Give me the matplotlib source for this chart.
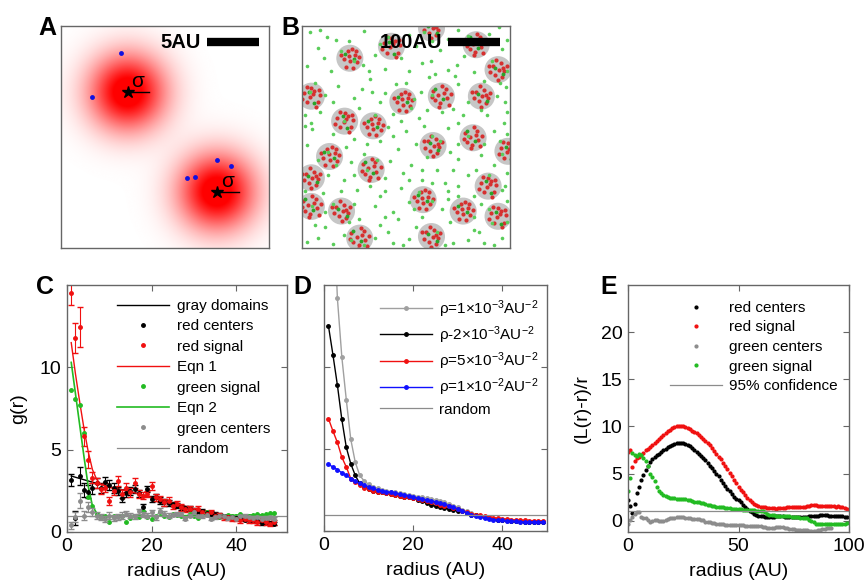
import numpy as np
import matplotlib
matplotlib.use("Agg")
import matplotlib.pyplot as plt
from matplotlib.patches import Circle
from matplotlib.colors import LinearSegmentedColormap

plt.rcParams['font.family'] = ['Liberation Sans', 'DejaVu Sans']
plt.rcParams['mathtext.fontset'] = 'custom'
plt.rcParams['mathtext.rm'] = 'Liberation Sans'
plt.rcParams['mathtext.it'] = 'Liberation Sans:italic'

W, H = 865, 581

# ---------------- panel A : two gaussian spots ----------------
a_star_x = [6.4, 15.0]
a_star_y = [15.0, 5.4]
a_sigma = 2.1
a_blue_x = [5.74, 2.98, 14.97, 16.32, 12.14, 12.91]
a_blue_y = [18.78, 14.55, 8.46, 7.91, 6.76, 6.86]

# ---------------- panel B : domains and points ----------------
dom_x = [249, 92, 172, 335, 377, 18, 194, 268, 345, 82, 137, 252, 329,
         396, 53, 133, 18, 358, 233, 18, 76, 310, 377, 111, 249]
dom_y = [423, 365, 388, 391, 343, 292, 282, 292, 292, 244, 235, 197, 212,
         186, 176, 151, 135, 119, 93, 80, 71, 71, 61, 19, 22]
dom_r = 26
red_patterns = [
    [(-10, 8), (5, 12), (12, -3), (-5, -10), (2, 0), (-15, -4), (8, -14),
     (-3, 19), (17, 7), (-18, 8), (0, -20), (9, 3)],
    [(-12, -2), (-4, 14), (10, 6), (14, -8), (0, -6), (-8, -16), (4, 18),
     (-17, 6), (18, 2), (6, -18), (-2, 4), (12, 14)],
    [(6, 10), (-14, 6), (-2, -2), (12, -12), (-8, -12), (16, 2), (0, 16),
     (-18, -6), (8, -20), (-9, 17), (3, 5), (14, 12)],
    [(-16, 10), (-6, 2), (8, 14), (10, -4), (-2, -14), (14, -16), (-12, -8),
     (2, 20), (18, 4), (-4, -20), (5, 6), (-18, -2)],
]
green_in_patterns = [[(-6, 4), (10, -9)], [(8, -2), (-10, 9)],
                     [(-4, 9), (5, -14)], [(3, -6), (-12, 14)]]
dom_pattern = [0, 1, 2, 3, 0, 2, 1, 3, 0, 2, 1, 0, 3, 2, 1, 3, 0, 2, 1, 3, 0, 1, 2, 3, 0]
green_pts = [
    (15, 415), (48, 405), (120, 418), (205, 410), (300, 420), (360, 412), (395, 400),
    (30, 385), (75, 378), (140, 372), (220, 388), (265, 380), (312, 370), (385, 382),
    (10, 350), (55, 340), (118, 352), (160, 345), (230, 355), (280, 342), (330, 338), (365, 360),
    (25, 318), (70, 312), (130, 325), (200, 318), (245, 328), (300, 315), (350, 322), (392, 310),
    (45, 295), (100, 288), (160, 298), (215, 286), (290, 268), (320, 280), (375, 292),
    (5, 255), (35, 262), (110, 270), (175, 258), (225, 250), (270, 262), (355, 255), (395, 262),
    (20, 228), (60, 220), (100, 210), (165, 232), (200, 225), (280, 230), (300, 240), (370, 225),
    (10, 198), (85, 195), (150, 205), (185, 190), (220, 200), (285, 185), (345, 178), (380, 205),
    (30, 170), (95, 165), (120, 180), (170, 168), (210, 160), (260, 150), (300, 172), (370, 160),
    (50, 140), (80, 130), (160, 135), (195, 145), (230, 130), (275, 125), (320, 140), (395, 145),
    (5, 110), (40, 105), (105, 112), (150, 100), (190, 115), (225, 108), (280, 110), (330, 100), (385, 112),
    (25, 45), (60, 85), (140, 80), (175, 70), (205, 88), (270, 75), (345, 85), (395, 90),
    (45, 40), (90, 50), (150, 45), (185, 55), (220, 40), (285, 50), (330, 35), (365, 48),
    (10, 12), (60, 8), (140, 20), (175, 10), (205, 18), (290, 10), (320, 15), (385, 20),
    (65, 400), (165, 405), (250, 398), (340, 395), (100, 360), (190, 365), (255, 335), (395, 340),
    (15, 300), (135, 300), (250, 295), (345, 265), (80, 245), (140, 255), (250, 215), (320, 215),
    (50, 185), (125, 150), (240, 175), (335, 150), (20, 80), (100, 85), (160, 110), (250, 90),
    (300, 100), (360, 75), (80, 25), (120, 5), (230, 60), (260, 30), (350, 10), (395, 50),
    (5, 235), (210, 270), (385, 180),
    (35, 420), (90, 398), (150, 392), (235, 415), (280, 402), (320, 408), (378, 425),
    (42, 365), (128, 340), (205, 340), (248, 360), (298, 352), (380, 318), (60, 280),
    (115, 305), (180, 315), (228, 300), (295, 330), (390, 280), (18, 240), (150, 280),
    (190, 245), (240, 265), (310, 255), (388, 240), (125, 200), (175, 215), (235, 235),
    (265, 205), (300, 200), (395, 220), (65, 160), (100, 140), (145, 170), (230, 150),
    (290, 150), (350, 200), (75, 110), (130, 120), (205, 130), (250, 125), (300, 120),
    (360, 140), (45, 70), (110, 55), (160, 60), (215, 75), (280, 95), (330, 60),
    (390, 120), (30, 20), (95, 15), (165, 30), (195, 5), (275, 5), (340, 30), (370, 5),
]

# ---------------- panel C : g(r) ----------------
c_r = np.arange(1, 50)
c_red_signal = [14.5, 11.8, 12.45, 5.8, 4.4, 3.3, 3.0, 2.6, 2.7, 1.9,
                2.5, 3.1, 2.3, 2.7, 2.4, 3.0, 2.3, 2.2, 2.3, 2.8,
                2.1, 2.0, 1.8, 1.9, 1.6, 1.7, 1.5, 1.4, 1.4, 1.3,
                1.4, 1.2, 1.1, 1.2, 1.0, 1.0, 0.9, 0.9, 0.8, 0.8,
                0.7, 0.8, 0.7, 0.7, 0.6, 0.7, 0.6, 0.5, 0.6]
c_red_signal_err = [0.7, 0.9, 1.2, 0.6, 0.5, 0.35, 0.3, 0.3, 0.3, 0.25,
                    0.25, 0.3, 0.25, 0.25, 0.25, 0.3, 0.25, 0.2, 0.2, 0.25,
                    0.2, 0.2, 0.2, 0.2, 0.2, 0.2, 0.2, 0.2, 0.15, 0.15,
                    0.15, 0.15, 0.15, 0.15, 0.15, 0.15, 0.15, 0.15, 0.15, 0.15,
                    0.15, 0.15, 0.15, 0.15, 0.15, 0.15, 0.15, 0.15, 0.15]
c_red_centers = [3.15, 0.85, 3.4, 2.55, 2.45, 2.65, 2.95, 2.65, 3.05, 2.85,
                 2.65, 2.5, 2.05, 2.35, 2.5, 2.6, 2.35, 1.5, 2.6, 2.0,
                 2.1, 1.9, 1.8, 1.75, 1.7, 1.6, 1.5, 1.45, 1.4, 1.3,
                 1.2, 1.25, 1.15, 1.1, 1.05, 1.0, 0.95, 0.9, 0.9, 0.85,
                 0.8, 0.75, 0.75, 0.7, 0.65, 0.55, 0.6, 0.55, 0.5]
c_red_centers_err = [0.35, 0.4, 0.55, 0.45, 0.4, 0.35, 0.3, 0.3, 0.3, 0.3,
                     0.3, 0.25, 0.25, 0.25, 0.25, 0.25, 0.2, 0.2, 0.2, 0.2,
                     0.2, 0.2, 0.2, 0.2, 0.15, 0.15, 0.15, 0.15, 0.15, 0.15,
                     0.15, 0.15, 0.15, 0.15, 0.15, 0.15, 0.1, 0.1, 0.1, 0.1,
                     0.1, 0.1, 0.1, 0.1, 0.1, 0.1, 0.1, 0.1, 0.1]
c_green_signal = [8.6, 8.1, 7.7, 6.0, 2.1, 1.6, 1.1, 0.9, 1.0, 0.6,
                  1.0, 0.95, 1.0, 0.6, 0.85, 1.0, 0.9, 1.3, 0.9, 0.8,
                  1.0, 1.2, 1.0, 0.9, 1.1, 1.05, 1.0, 0.9, 1.1, 1.0,
                  0.85, 1.05, 1.2, 1.0, 1.0, 0.9, 1.0, 1.05, 0.95, 1.0,
                  1.1, 0.95, 1.0, 1.05, 1.1, 1.05, 1.1, 1.15, 1.15]
c_green_centers = [0.4, 0.9, 1.9, 1.0, 1.5, 1.2, 1.0, 0.9, 0.8, 1.0,
                   0.85, 0.9, 1.0, 1.1, 1.0, 0.95, 1.25, 1.05, 1.0, 1.2,
                   0.9, 1.3, 1.1, 1.0, 1.05, 1.1, 1.1, 0.8, 1.0, 1.2,
                   1.0, 0.95, 1.05, 0.8, 0.9, 1.0, 0.95, 0.85, 0.9, 0.8,
                   0.95, 1.0, 0.9, 0.85, 0.9, 0.8, 0.85, 0.9, 0.8]
c_green_centers_err = [0.2, 0.3, 0.45, 0.3, 0.3, 0.25, 0.2, 0.2, 0.2, 0.2,
                       0.2, 0.2, 0.2, 0.15, 0.15, 0.15, 0.15, 0.15, 0.15, 0.15,
                       0.15, 0.15, 0.15, 0.15, 0.1, 0.1, 0.1, 0.1, 0.1, 0.1,
                       0.1, 0.1, 0.1, 0.1, 0.1, 0.1, 0.1, 0.1, 0.1, 0.1,
                       0.1, 0.1, 0.1, 0.1, 0.1, 0.1, 0.1, 0.1, 0.1]
c_domain_r = [1, 5, 10, 15, 20, 25, 30, 35, 40, 45, 49]
c_domain_g = [3.4, 3.1, 2.75, 2.45, 2.1, 1.75, 1.42, 1.15, 0.92, 0.7, 0.55]
c_eqn1_r = [1, 2, 3, 4, 5, 6, 7, 8, 10, 15, 20, 25, 30, 35, 40, 45, 49]
c_eqn1_g = [11.5, 9.6, 7.9, 6.3, 4.9, 3.8, 3.2, 2.9, 2.7, 2.45, 2.1, 1.75, 1.4, 1.1, 0.85, 0.65, 0.55]
c_eqn2_r = [1, 2, 3, 4, 5, 6, 7, 8, 10, 20, 30, 40, 49]
c_eqn2_g = [10.3, 8.4, 6.5, 4.6, 2.8, 1.6, 1.15, 1.0, 0.95, 0.97, 1.0, 1.02, 1.05]

# ---------------- panel D : simulated densities ----------------
d_r = np.arange(1, 50)
d_rho1 = [30, 21, 14.2, 10.6, 8.0, 5.6, 4.2, 3.4, 3.05, 2.85,
          2.7, 2.6, 2.5, 2.45, 2.4, 2.35, 2.3, 2.25, 2.2, 2.15,
          2.1, 2.05, 2.0, 1.95, 1.9, 1.85, 1.75, 1.65, 1.55, 1.45,
          1.3, 1.2, 1.1, 1.0, 0.92, 0.85, 0.8, 0.75, 0.7, 0.66,
          0.63, 0.6, 0.58, 0.57, 0.56, 0.56, 0.55, 0.55, 0.55]
d_rho2 = [12.5, 10.75, 8.9, 6.8, 5.1, 4.1, 3.4, 2.9, 2.7, 2.55,
          2.45, 2.4, 2.35, 2.3, 2.25, 2.2, 2.15, 2.1, 2.05, 2.0,
          1.9, 1.8, 1.7, 1.6, 1.5, 1.45, 1.4, 1.35, 1.3, 1.25,
          1.2, 1.1, 1.0, 0.95, 0.9, 0.85, 0.8, 0.75, 0.7, 0.68,
          0.65, 0.62, 0.6, 0.58, 0.57, 0.56, 0.55, 0.55, 0.55]
d_rho5 = [6.85, 6.1, 5.4, 4.5, 3.9, 3.2, 3.0, 2.8, 2.65, 2.55,
          2.45, 2.4, 2.35, 2.3, 2.25, 2.2, 2.15, 2.1, 2.05, 2.0,
          1.95, 1.9, 1.8, 1.75, 1.7, 1.6, 1.55, 1.5, 1.4, 1.35,
          1.25, 1.15, 1.05, 1.0, 0.95, 0.9, 0.85, 0.8, 0.78, 0.75,
          0.72, 0.7, 0.68, 0.66, 0.65, 0.64, 0.63, 0.62, 0.62]
d_rho10 = [4.07, 3.9, 3.75, 3.55, 3.4, 3.2, 3.05, 2.9, 2.8, 2.7,
           2.6, 2.5, 2.45, 2.4, 2.35, 2.3, 2.25, 2.2, 2.15, 2.07,
           2.0, 1.95, 1.9, 1.85, 1.78, 1.7, 1.62, 1.55, 1.45, 1.36,
           1.25, 1.1, 0.95, 0.9, 0.85, 0.8, 0.75, 0.7, 0.67, 0.65,
           0.62, 0.6, 0.58, 0.57, 0.56, 0.55, 0.55, 0.55, 0.55]
d_labels = ['ρ=1×10$^{-3}$AU$^{-2}$', 'ρ-2×10$^{-3}$AU$^{-2}$',
            'ρ=5×10$^{-3}$AU$^{-2}$', 'ρ=1×10$^{-2}$AU$^{-2}$']

# ---------------- panel E : Ripley L ----------------
e_r = np.arange(0, 100)
e_red_signal = [7.3, 7.5, 5.7, 6.3, 6.6, 6.8, 7.0, 7.2, 7.5, 7.6,
                7.8, 8.0, 8.2, 8.5, 8.7, 8.9, 9.1, 9.3, 9.5, 9.6,
                9.8, 9.9, 10.0, 10.05, 10.05, 10.0, 9.95, 9.85, 9.7, 9.55,
                9.4, 9.25, 9.1, 8.9, 8.7, 8.5, 8.25, 8.0, 7.7, 7.4,
                7.1, 6.8, 6.5, 6.15, 5.85, 5.5, 5.1, 4.7, 4.35, 3.95,
                3.6, 3.3, 3.0, 2.7, 2.45, 2.2, 2.0, 1.8, 1.65, 1.55,
                1.5, 1.45, 1.4, 1.35, 1.3, 1.3, 1.3, 1.25, 1.3, 1.3,
                1.3, 1.35, 1.4, 1.45, 1.5, 1.5, 1.45, 1.4, 1.45, 1.5,
                1.5, 1.55, 1.6, 1.65, 1.65, 1.65, 1.6, 1.6, 1.55, 1.55,
                1.55, 1.6, 1.55, 1.55, 1.5, 1.55, 1.5, 1.45, 1.3, 1.2]
e_red_centers = [2.2, 1.6, 0.8, 1.8, 2.9, 3.6, 4.3, 4.8, 5.4, 5.8,
                 6.2, 6.5, 6.8, 7.0, 7.1, 7.3, 7.5, 7.6, 7.8, 7.9,
                 8.0, 8.1, 8.2, 8.2, 8.25, 8.2, 8.1, 8.0, 7.9, 7.7,
                 7.5, 7.3, 7.1, 6.9, 6.65, 6.4, 6.1, 5.8, 5.55, 5.3,
                 5.0, 4.7, 4.35, 4.05, 3.7, 3.4, 3.1, 2.8, 2.55, 2.35,
                 2.2, 1.95, 1.7, 1.5, 1.25, 1.05, 0.9, 0.75, 0.62, 0.55,
                 0.5, 0.45, 0.42, 0.4, 0.4, 0.4, 0.42, 0.45, 0.45, 0.45,
                 0.45, 0.42, 0.4, 0.4, 0.4, 0.4, 0.38, 0.38, 0.4, 0.4,
                 0.4, 0.42, 0.45, 0.5, 0.5, 0.5, 0.55, 0.6, 0.6, 0.6,
                 0.6, 0.55, 0.55, 0.5, 0.5, 0.5, 0.45, 0.45, 0.4, 0.4]
e_green_signal = [3.2, 4.5, 7.2, 7.0, 6.9, 7.1, 7.0, 6.6, 6.3, 5.8,
                  5.0, 4.6, 4.2, 3.6, 3.2, 2.9, 2.75, 2.6, 2.5, 2.45,
                  2.4, 2.4, 2.35, 2.35, 2.3, 2.3, 2.25, 2.2, 2.15, 2.1,
                  2.0, 2.0, 1.95, 1.9, 1.85, 1.75, 1.7, 1.65, 1.6, 1.55,
                  1.5, 1.45, 1.4, 1.4, 1.35, 1.3, 1.3, 1.25, 1.25, 1.2,
                  1.2, 1.2, 1.15, 1.15, 1.1, 1.1, 1.1, 1.1, 1.05, 1.05,
                  1.05, 1.0, 0.9, 0.75, 0.65, 0.6, 0.6, 0.55, 0.55, 0.55,
                  0.55, 0.5, 0.5, 0.45, 0.4, 0.4, 0.4, 0.35, 0.3, 0.3,
                  0.3, 0.25, 0.1, 0.0, -0.15, -0.3, -0.3, -0.3, -0.3, -0.3,
                  -0.3, -0.3, -0.35, -0.35, -0.35, -0.35, -0.3, -0.3, -0.3, -0.25]
e_r_gc = np.arange(0, 93)
e_green_centers = [-0.3, 0.1, 0.4, 0.7, 0.95, 0.9, 0.4, 0.3, 0.25, 0.1,
                   -0.1, 0.0, 0.05, 0.05, 0.0, 0.0, -0.05, 0.1, 0.2, 0.25,
                   0.25, 0.3, 0.35, 0.4, 0.4, 0.35, 0.3, 0.25, 0.25, 0.2,
                   0.2, 0.15, 0.15, 0.1, 0.05, -0.1, -0.1, -0.15, -0.2, -0.25,
                   -0.3, -0.3, -0.35, -0.4, -0.45, -0.45, -0.45, -0.45, -0.45, -0.45,
                   -0.45, -0.5, -0.5, -0.55, -0.6, -0.6, -0.6, -0.6, -0.6, -0.6,
                   -0.6, -0.65, -0.7, -0.75, -0.8, -0.8, -0.75, -0.7, -0.7, -0.7,
                   -0.7, -0.75, -0.8, -0.85, -0.9, -0.9, -0.95, -0.95, -1.0, -1.0,
                   -1.0, -1.0, -1.05, -1.05, -1.05, -1.05, -1.0, -0.95, -0.9, -0.85,
                   -0.8, -0.8, -0.8]
e_conf = 1.0

RED = '#f01010'
GREEN = '#22bb22'
GRAY = '#8c8c8c'
FRAME = '#666666'
TICK_FS = 14
LEG_FS = 11


def px_axes(fig, l, t, r, b):
    return fig.add_axes([l / W, 1 - b / H, (r - l) / W, (b - t) / H])


def style_frame(ax):
    for s in ax.spines.values():
        s.set_color(FRAME)
        s.set_linewidth(1.0)


def style_plot(ax):
    style_frame(ax)
    ax.tick_params(direction='in', top=True, right=True, length=4,
                   color=FRAME, labelsize=TICK_FS, pad=4)


def add_legend(ax, anchor, spacing, handles=None, labels=None):
    # anchor: upper right corner of legend, in axes fraction
    kw = dict(loc='upper right', bbox_to_anchor=anchor, frameon=False,
              fontsize=LEG_FS, handlelength=3.4, handletextpad=0.5,
              labelspacing=spacing, borderaxespad=0, borderpad=0, numpoints=1)
    if handles is None:
        ax.legend(**kw)
    else:
        ax.legend(handles, labels, **kw)


fig = plt.figure(figsize=(W / 100, H / 100), dpi=100)

# ---- A ----
axA = px_axes(fig, 61, 26, 269, 248)
xa = np.linspace(0, 20, 400)
ya = np.linspace(0, 21.35, 428)
XA, YA = np.meshgrid(xa, ya)
dens = np.zeros_like(XA)
for sx, sy in zip(a_star_x, a_star_y):
    dens += np.exp(-((XA - sx) ** 2 + (YA - sy) ** 2) / (2 * (a_sigma * 1.22) ** 2))
wr = LinearSegmentedColormap.from_list('wr', ['white', '#ff0000'])
axA.imshow(np.clip(dens * 1.15, 0, 1), origin='lower', extent=[0, 20, 0, 21.35],
           cmap=wr, vmin=0, vmax=1, aspect='auto', interpolation='bilinear')
axA.plot(a_blue_x, a_blue_y, 'o', color='#1010e0', ms=3.5, mec='none')
axA.plot(a_star_x, a_star_y, '*', color='black', ms=9)
for sx, sy in zip(a_star_x, a_star_y):
    axA.plot([sx, sx + a_sigma], [sy, sy], color='black', lw=1)
    axA.text(sx + 1.0, sy + 0.1, 'σ', fontsize=15, ha='center', va='bottom')
axA.plot([14, 19], [19.8, 19.8], color='black', lw=6, solid_capstyle='butt')
axA.text(13.4, 19.8, '5AU', fontsize=14.5, fontweight='bold', ha='right', va='center')
axA.set_xlim(0, 20)
axA.set_ylim(0, 21.35)
axA.set_xticks([])
axA.set_yticks([])
style_frame(axA)

# ---- B ----
axB = px_axes(fig, 302, 26, 510, 248)
for i, (cx, cy) in enumerate(zip(dom_x, dom_y)):
    axB.add_patch(Circle((cx, cy), dom_r, color='#c6c6c6', lw=0))
for i, (cx, cy) in enumerate(zip(dom_x, dom_y)):
    pts = red_patterns[dom_pattern[i]]
    axB.plot([cx + p[0] for p in pts], [cy + p[1] for p in pts], 'o',
             color='#d63030', ms=3.0, mec='none')
    gin = green_in_patterns[dom_pattern[i]]
    axB.plot([cx + p[0] for p in gin], [cy + p[1] for p in gin], 'o',
             color='#2aa52a', ms=2.8, mec='none')
axB.plot([p[0] for p in green_pts], [p[1] for p in green_pts], 'o',
         color='#5acd5a', ms=2.6, mec='none')
axB.plot([281, 381], [395.6, 395.6], color='black', lw=6, solid_capstyle='butt')
axB.text(269, 395.6, '100AU', fontsize=14.5, fontweight='bold', ha='right', va='center')
axB.set_xlim(0, 400)
axB.set_ylim(0, 427)
axB.set_xticks([])
axB.set_yticks([])
style_frame(axB)

# ---- C ----
axC = px_axes(fig, 67, 285, 287, 532)
h1, = axC.plot(c_domain_r, c_domain_g, color='black', lw=1)
h2 = axC.errorbar(c_r, c_red_centers, yerr=c_red_centers_err, fmt='.', color='black',
                  ms=5, elinewidth=0.8, capsize=2)
h3 = axC.errorbar(c_r, c_red_signal, yerr=c_red_signal_err, fmt='.', color=RED,
                  ms=5, elinewidth=0.8, capsize=2)
h4, = axC.plot(c_eqn1_r, c_eqn1_g, color=RED, lw=1)
h5, = axC.plot(c_r, c_green_signal, '.', color=GREEN, ms=5)
h6, = axC.plot(c_eqn2_r, c_eqn2_g, color=GREEN, lw=1.2)
h7 = axC.errorbar(c_r, c_green_centers, yerr=c_green_centers_err, fmt='.', color=GRAY,
                  ms=5, elinewidth=0.8, capsize=2)
h8 = axC.axhline(1, color=GRAY, lw=0.9)
axC.set_xlim(0, 52)
axC.set_ylim(0, 15)
axC.set_xticks([0, 20, 40])
axC.set_yticks([0, 5, 10])
axC.set_xlabel('radius (AU)', fontsize=TICK_FS, labelpad=6)
axC.set_ylabel('g(r)', fontsize=TICK_FS)
axC.yaxis.set_label_coords(-0.18, 0.5)
style_plot(axC)
add_legend(axC, (1 - 17 / 220, 1 - 14 / 247), 0.42,
           [h1, h2[0], h3[0], h4, h5, h6, h7[0], h8],
           ['gray domains', 'red centers', 'red signal', 'Eqn 1',
            'green signal', 'Eqn 2', 'green centers', 'random'])

# ---- D ----
axD = px_axes(fig, 324, 285, 547, 531)
for vals, col, lab in zip([d_rho1, d_rho2, d_rho5, d_rho10],
                          ['#a0a0a0', 'black', RED, '#1010ff'], d_labels):
    axD.plot(d_r, vals, '.-', color=col, lw=1, ms=5, label=lab)
axD.axhline(1, color=GRAY, lw=0.9, label='random')
axD.set_xlim(0, 50)
axD.set_ylim(0, 15)
axD.set_xticks([0, 20, 40])
axD.set_yticks([0, 5, 10])
axD.set_yticklabels([])
axD.set_xlabel('radius (AU)', fontsize=TICK_FS, labelpad=6)
style_plot(axD)
add_legend(axD, (1 - 8 / 223, 1 - 13 / 246), 0.3)

# ---- E ----
axE = px_axes(fig, 628, 285, 849, 532)
axE.plot(e_r, e_red_centers, '.', color='black', ms=4, label='red centers')
axE.plot(e_r, e_red_signal, '.', color=RED, ms=4, label='red signal')
axE.plot(e_r_gc, e_green_centers, '.', color=GRAY, ms=4, label='green centers')
axE.plot(e_r, e_green_signal, '.', color=GREEN, ms=4, label='green signal')
axE.axhline(e_conf, color=GRAY, lw=0.9, label='95% confidence')
axE.set_xlim(0, 100)
axE.set_ylim(-1.2, 25)
axE.set_xticks([0, 50, 100])
axE.set_yticks([0, 5, 10, 15, 20])
axE.set_xlabel('radius (AU)', fontsize=TICK_FS, labelpad=6)
axE.set_ylabel('(L(r)-r)/r', fontsize=TICK_FS)
axE.yaxis.set_label_coords(-0.17, 0.5)
style_plot(axE)
add_legend(axE, (1 - 11 / 221, 1 - 16 / 247), 0.36)

# panel letters
for lab, x, y in [('A', 38, 28), ('B', 281, 28), ('C', 36, 287), ('D', 293, 287), ('E', 600, 287)]:
    fig.text(x / W, 1 - y / H, lab, fontsize=18, fontweight='bold', ha='left', va='center')

fig.savefig('out.png', dpi=100)
